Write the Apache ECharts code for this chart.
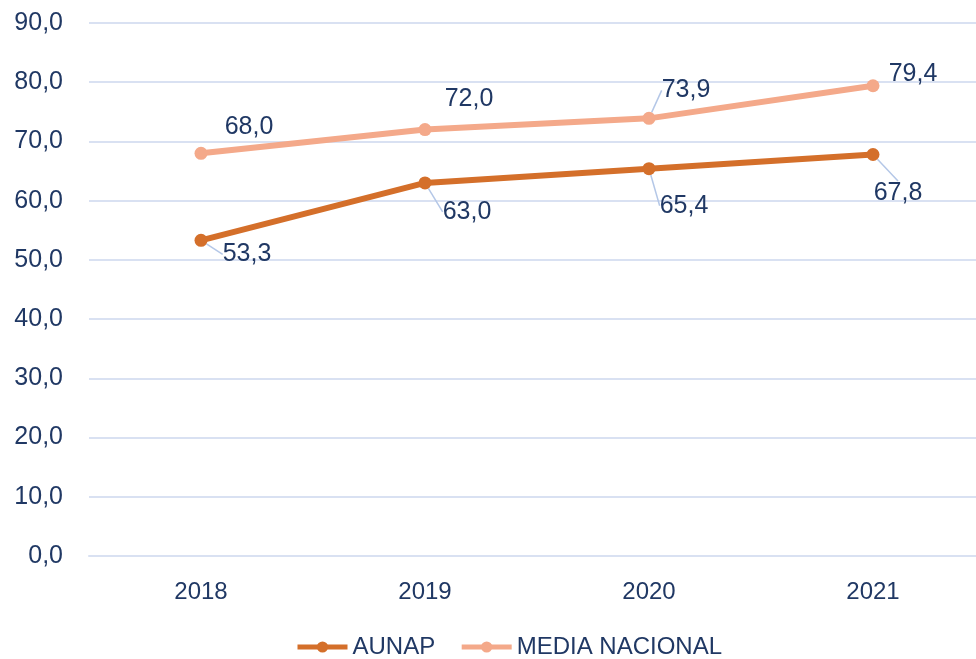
<!DOCTYPE html>
<html><head><meta charset="utf-8">
<script src="https://cdn.jsdelivr.net/npm/echarts@6/dist/echarts.min.js"></script>
<style>html,body{margin:0;padding:0;background:#fff;overflow:hidden}#c{width:985px;height:659px}</style>
</head><body><div id="c"></div>
<script>
const categories = ['2018', '2019', '2020', '2021'];
const aunap = [53.3, 63.0, 65.4, 67.8];
const mediaNacional = [68.0, 72.0, 73.9, 79.4];
const seriesNames = ['AUNAP', 'MEDIA NACIONAL'];

// label offsets (styling) relative to each point
const aunapOffsets = [[46, 14], [42, 29], [35, 37], [25, 39]];
const mediaOffsets = [[48, -26], [44, -30], [37, -28], [40, -12]];
const aunapLeader = [true, true, true, true];
const mediaLeader = [false, false, true, false];

const textColor = '#203864';
const font = 'Liberation Sans';
const fmt = v => v.toFixed(1).replace('.', ',');

function build(values, leader) {
  return values.map((v, i) => ({ value: v, labelLine: { show: leader[i] } }));
}
function mkLayout(offsets) {
  return p => ({ dx: offsets[p.dataIndex][0], dy: offsets[p.dataIndex][1] });
}

const chart = echarts.init(document.getElementById('c'));
chart.setOption({
  animation: false,
  textStyle: { fontFamily: font },
  grid: { left: 89, top: 23, right: 0, bottom: 103 },
  legend: {
    bottom: 0, left: 295, padding: 0,
    itemWidth: 50, itemHeight: 14, itemGap: 24,
    lineStyle: { width: 5 },
    textStyle: { fontFamily: font, fontSize: 24, color: textColor },
    data: seriesNames
  },
  xAxis: {
    type: 'category', data: categories, boundaryGap: true,
    axisLine: { lineStyle: { color: '#D9E1F2', width: 2 } },
    axisTick: { show: false },
    axisLabel: { color: textColor, fontSize: 24, margin: 24, fontFamily: font }
  },
  yAxis: {
    type: 'value', min: 0, max: 90, interval: 10,
    axisLabel: { color: textColor, fontSize: 25, margin: 26, fontFamily: font, formatter: fmt },
    splitLine: { lineStyle: { color: '#D9E1F2', width: 2 } },
    axisLine: { show: false }, axisTick: { show: false }
  },
  series: [
    {
      name: seriesNames[0], type: 'line', data: build(aunap, aunapLeader),
      color: '#D46F2A',
      lineStyle: { width: 6, color: '#D46F2A' },
      symbol: 'circle', symbolSize: 13,
      itemStyle: { color: '#D46F2A' },
      label: { show: true, position: 'inside', align: 'center', verticalAlign: 'middle',
        color: textColor, fontSize: 25, fontFamily: font, formatter: p => fmt(p.value) },
      labelLine: { show: true, lineStyle: { color: '#B4C7E7', width: 1.5 } },
      labelLayout: mkLayout(aunapOffsets),
      z: 3
    },
    {
      name: seriesNames[1], type: 'line', data: build(mediaNacional, mediaLeader),
      color: '#F4A98A',
      lineStyle: { width: 6, color: '#F4A98A' },
      symbol: 'circle', symbolSize: 13,
      itemStyle: { color: '#F4A98A' },
      label: { show: true, position: 'inside', align: 'center', verticalAlign: 'middle',
        color: textColor, fontSize: 25, fontFamily: font, formatter: p => fmt(p.value) },
      labelLine: { show: true, lineStyle: { color: '#B4C7E7', width: 1.5 } },
      labelLayout: mkLayout(mediaOffsets),
      z: 2
    }
  ]
});
</script></body></html>
